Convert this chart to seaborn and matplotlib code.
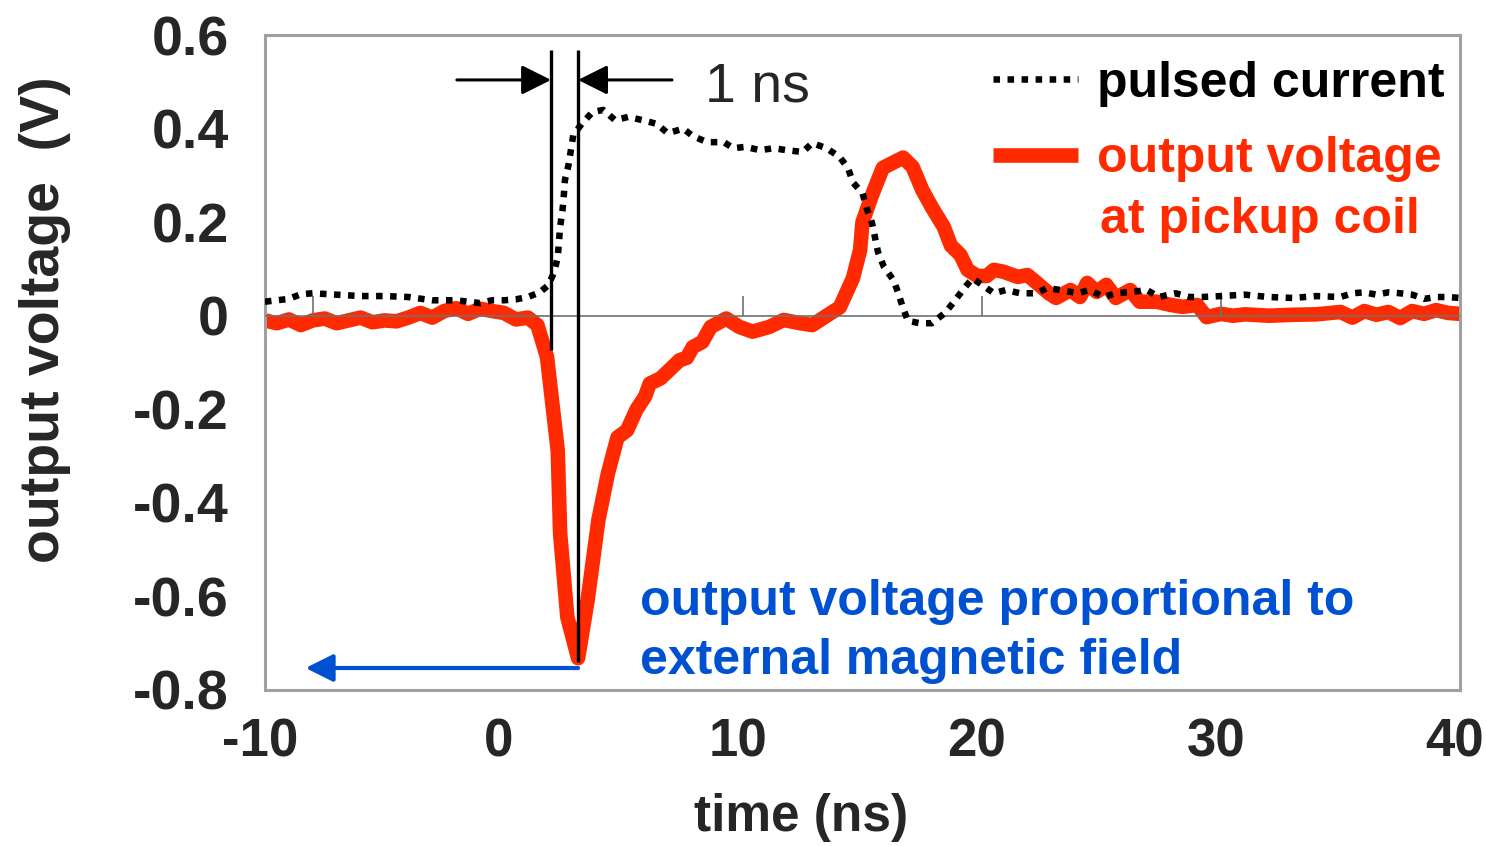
import numpy as np
import pandas as pd
import matplotlib
matplotlib.use("Agg")
import matplotlib.pyplot as plt
import matplotlib.transforms as mtransforms
import seaborn as sns

# ---------------- data ----------------
time_output = [-10.0, -9.5, -9.0, -8.5, -8.0, -7.5, -7.0, -6.5, -6.0, -5.5, -5.0, -4.5, -4.0,
               -3.5, -3.0, -2.5, -2.0, -1.5, -1.0, -0.5, 0.0, 0.5, 1.0, 1.4, 1.8, 2.25, 2.35,
               2.65, 3.1, 3.5, 3.95, 4.35, 4.75, 5.15, 5.55, 5.9, 6.1, 6.55, 7.35, 7.65, 7.9,
               8.3, 8.65, 9.3, 9.85, 10.4, 11.1, 11.7, 12.4, 12.9, 13.5, 14.05, 14.6, 14.9,
               15.0, 15.4, 15.85, 16.7, 17.1, 17.5, 17.9, 18.4, 18.7, 19.1, 19.4, 19.8, 20.2,
               20.5, 20.9, 21.5, 21.9, 22.3, 22.8, 23.1, 23.7, 24.1, 24.4, 24.8, 25.2, 25.6,
               26.2, 26.6, 27.3, 27.9, 28.4, 29.0, 29.4, 30.0, 30.5, 31.0, 32.0, 33.0, 34.0,
               35.0, 35.5, 36.0, 36.5, 37.0, 37.5, 38.0, 38.5, 39.0, 39.5, 40.0]
volt_output = [-0.010, -0.016, -0.008, -0.020, -0.010, -0.006, -0.016, -0.010, -0.004, -0.014,
               -0.010, -0.012, -0.004, 0.006, -0.004, 0.010, 0.016, 0.004, 0.015, 0.010, 0.006,
               -0.008, -0.004, -0.020, -0.088, -0.288, -0.465, -0.644, -0.732, -0.608, -0.437,
               -0.337, -0.260, -0.245, -0.200, -0.173, -0.145, -0.134, -0.095, -0.090, -0.067,
               -0.056, -0.024, -0.006, -0.024, -0.034, -0.024, -0.009, -0.016, -0.020, 0.000,
               0.018, 0.080, 0.140, 0.200, 0.258, 0.316, 0.338, 0.318, 0.269, 0.232, 0.190,
               0.150, 0.130, 0.098, 0.085, 0.085, 0.098, 0.094, 0.083, 0.087, 0.070, 0.048,
               0.038, 0.055, 0.040, 0.070, 0.051, 0.066, 0.038, 0.055, 0.030, 0.030, 0.023,
               0.019, 0.023, -0.003, 0.004, 0.000, 0.003, 0.000, 0.002, 0.003, 0.008, -0.004,
               0.010, 0.002, 0.008, -0.005, 0.010, 0.004, 0.012, 0.006, 0.004]

time_pulse = [-10.0, -9.5, -9.0, -8.5, -8.0, -7.0, -6.0, -5.0, -4.0, -3.0, -2.0, -1.5, -1.0,
              -0.5, 0.0, 0.5, 1.0, 1.5, 1.85, 2.1, 2.25, 2.35, 2.45, 2.5, 2.55, 2.7, 2.8, 2.9,
              3.25, 3.7, 4.15, 4.65, 5.2, 5.8, 6.4, 6.85, 7.5, 7.9, 8.5, 9.2, 9.6, 10.1, 10.7,
              11.3, 11.8, 12.5, 12.9, 13.5, 14.05, 14.4, 14.6, 15.0, 15.2, 15.4, 15.65, 15.9,
              16.3, 16.5, 16.7, 16.9, 17.4, 17.9, 18.45, 18.8, 19.2, 19.6, 20.0, 20.5, 21.0,
              21.6, 22.3, 22.7, 23.3, 24.0, 24.5, 25.1, 25.6, 26.3, 26.9, 27.4, 28.1, 28.7,
              29.2, 30.0, 31.0, 32.0, 33.0, 34.0, 35.0, 35.5, 36.0, 36.5, 37.0, 37.5, 38.0,
              38.5, 39.0, 39.5, 40.0]
volt_pulse = [0.030, 0.033, 0.036, 0.046, 0.048, 0.045, 0.042, 0.042, 0.040, 0.033, 0.033,
              0.030, 0.027, 0.033, 0.033, 0.035, 0.040, 0.050, 0.065, 0.093, 0.125, 0.190,
              0.226, 0.254, 0.290, 0.322, 0.354, 0.386, 0.410, 0.435, 0.440, 0.418, 0.425,
              0.418, 0.410, 0.390, 0.400, 0.384, 0.371, 0.371, 0.358, 0.361, 0.354, 0.358,
              0.354, 0.350, 0.369, 0.358, 0.339, 0.315, 0.285, 0.262, 0.226, 0.198, 0.136,
              0.104, 0.076, 0.048, 0.016, -0.011, -0.016, -0.016, 0.006, 0.028, 0.055, 0.080,
              0.066, 0.048, 0.055, 0.048, 0.048, 0.059, 0.055, 0.048, 0.055, 0.040, 0.048,
              0.051, 0.055, 0.040, 0.048, 0.040, 0.040, 0.042, 0.045, 0.040, 0.038, 0.042,
              0.040, 0.048, 0.050, 0.045, 0.050, 0.048, 0.045, 0.036, 0.040, 0.040, 0.038]

x_ticks = [-10, 0, 10, 20, 30, 40]
x_tick_labels = ["-10", "0", "10", "20", "30", "40"]
y_ticks = [-0.8, -0.6, -0.4, -0.2, 0.0, 0.2, 0.4, 0.6]
y_tick_labels = ["-0.8", "-0.6", "-0.4", "-0.2", "0", "0.2", "0.4", "0.6"]
zero_line_ticks = [-8, 10, 20, 30]
marker_left = 1.97      # ns, left edge of the 1 ns interval
marker_right = 3.1      # ns, right edge (time of the voltage minimum)
peak_level = -0.753     # level of the blue arrow

# ---------------- style ----------------
sns.set_theme(style="white")
plt.rcParams["font.family"] = ["Liberation Sans", "DejaVu Sans"]
plt.rcParams["font.weight"] = "bold"
RED = "#FF2A00"
BLUE = "#0050D2"
FRAME = "#A0A0A0"
AXLINE = "#707070"

fig = plt.figure(figsize=(14.86, 8.46), dpi=100)
ax = fig.add_axes([0.1783, 0.1844, 0.8042, 0.7742])

df_out = pd.DataFrame({"time": time_output, "volt": volt_output})
df_pul = pd.DataFrame({"time": time_pulse, "volt": volt_pulse})

sns.lineplot(data=df_out, x="time", y="volt", color=RED, linewidth=10.5, ax=ax,
             label="output voltage", zorder=2, solid_joinstyle="round",
             solid_capstyle="butt", estimator=None, sort=False)
ax.axhline(0, color=AXLINE, lw=1.2, zorder=3)
ax.vlines(zero_line_ticks, 0, 0.043, color=AXLINE, lw=1.2, zorder=3)
sns.lineplot(data=df_pul, x="time", y="volt", color="black", linewidth=4.7, ax=ax,
             linestyle=(0, (1, 1.15)), dash_capstyle="butt", label="pulsed current",
             zorder=4, estimator=None, sort=False)

ax.set_xlim(-10, 40)
ax.set_ylim(-0.8, 0.6)
ax.set_xticks(x_ticks, x_tick_labels)
ax.set_yticks(y_ticks, y_tick_labels)
ax.tick_params(axis="both", length=0)
ax.tick_params(axis="y", pad=26, labelsize=40)
ax.tick_params(axis="x", pad=20, labelsize=38)
shift = mtransforms.ScaledTranslation(-5 / 100, 0, fig.dpi_scale_trans)
for lab in ax.get_xticklabels():
    lab.set_fontweight("bold")
    lab.set_transform(lab.get_transform() + shift)
for lab in ax.get_yticklabels():
    lab.set_fontweight("bold")
ax.set_xlabel("time (ns)", fontsize=37, fontweight="bold")
ax.set_ylabel("output voltage  (V)", fontsize=40, fontweight="bold")
ax.xaxis.set_label_coords(0.449, -0.195)
ax.xaxis.label.set_va("center")
ax.yaxis.set_label_coords(-0.184, 0.565)
ax.yaxis.label.set_va("center")
for sp in ax.spines.values():
    sp.set_visible(True)
    sp.set_color(FRAME)
    sp.set_linewidth(2.2)

# 1 ns markers
ax.vlines([marker_left], -0.073, 0.568, color="black", lw=2.4, zorder=5)
ax.vlines([marker_right], -0.740, 0.568, color="black", lw=2.4, zorder=5)
arrow_k = dict(arrowstyle="-|>", mutation_scale=45, lw=2.2, color="black",
               shrinkA=0, shrinkB=0)
ax.annotate("", xy=(marker_left, 0.504), xytext=(-1.97, 0.504), arrowprops=arrow_k)
ax.annotate("", xy=(marker_right, 0.504), xytext=(7.03, 0.504), arrowprops=arrow_k)
ax.text(8.41, 0.487, "1 ns", fontsize=40, fontweight="normal",
        ha="left", va="center")

# blue annotation
ax.annotate("", xy=(-8.3, peak_level), xytext=(marker_right, peak_level),
            arrowprops=dict(arrowstyle="-|>", mutation_scale=42, lw=3, color=BLUE,
                            shrinkA=0, shrinkB=0))
ax.text(5.69, -0.674, "output voltage proportional to\nexternal magnetic field",
        color=BLUE, fontsize=36, fontweight="bold", ha="left", va="center",
        linespacing=1.36)

# legend
handles, labels = ax.get_legend_handles_labels()
hmap = dict(zip(labels, handles))
leg = ax.legend([hmap["pulsed current"], hmap["output voltage"]],
                ["pulsed current", "output voltage"],
                loc="upper left", bbox_to_anchor=(0.609, 0.961), frameon=False,
                prop={"weight": "bold", "size": 36}, handlelength=1.7,
                handletextpad=0.38, labelspacing=0.59, borderpad=0, borderaxespad=0,
                labelcolor=["black", RED])
ax.text(0.699, 0.717, "at pickup coil", transform=ax.transAxes, color=RED,
        fontsize=36, fontweight="bold", ha="left", va="center")

fig.savefig("out.png", dpi=100)
